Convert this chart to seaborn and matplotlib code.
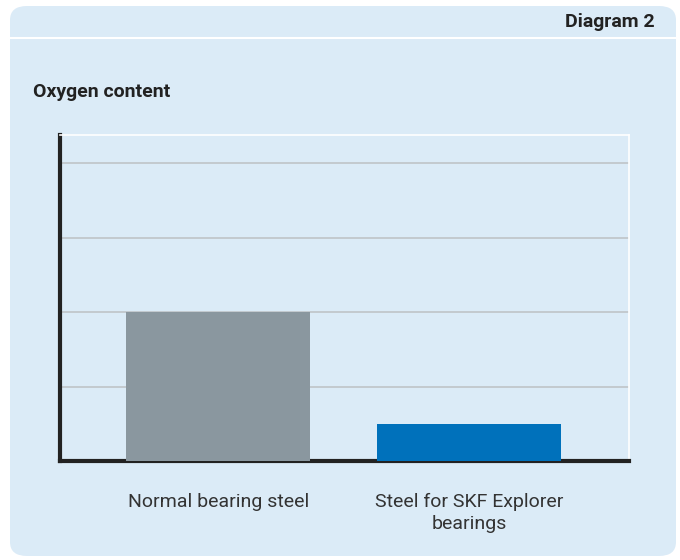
import matplotlib
matplotlib.use("Agg")
import matplotlib.pyplot as plt
import seaborn as sns
from matplotlib.patches import FancyBboxPatch
from matplotlib.lines import Line2D

# chart data
categories = ["Normal bearing steel", "Steel for SKF Explorer\nbearings"]
oxygen = [2.0, 0.5]
bar_colors = ["#8a979f", "#0071bb"]

panel_bg = "#dbebf7"

sns.set_theme(style="white")
plt.rcParams["font.family"] = ["Roboto", "DejaVu Sans"]

fig = plt.figure(figsize=(6.8, 5.6), dpi=100)
fig.patch.set_facecolor("white")

# rounded light blue panel behind everything
W, H = 680, 560
panel = FancyBboxPatch((10 / W, 1 - 556 / H), 666 / W, 550 / H,
                       boxstyle="round,pad=0,rounding_size=0.025",
                       transform=fig.transFigure, facecolor=panel_bg,
                       edgecolor="none", zorder=-5)
fig.patches.append(panel)
# white separator under the header strip
fig.add_artist(Line2D([10 / W, 676 / W], [1 - 38 / H, 1 - 38 / H],
                      transform=fig.transFigure, color="white", lw=1.5, zorder=-4))

fig.text(655 / W, 1 - 22 / H, "Diagram 2", ha="right", va="center",
         fontsize=14, fontweight="semibold", color="#222222")
fig.text(33 / W, 1 - 92 / H, "Oxygen content", ha="left", va="center",
         fontsize=14, fontweight="semibold", color="#222222")

ax = fig.add_axes([60 / W, 1 - 461 / H, 569 / W, 326 / H])
ax.set_zorder(2)
ax.set_facecolor(panel_bg)

sns.barplot(x=categories, y=oxygen, hue=categories, palette=bar_colors,
            width=0.733, saturation=1, legend=False, linewidth=0, ax=ax, zorder=3)

ax.set_xlim(-0.63, 1.637)
ax.set_ylim(0, 4.38)
ax.set_yticks([1, 2, 3, 4])
ax.yaxis.grid(True, color="#bfc4c8", lw=1.2)
ax.set_axisbelow(True)
ax.tick_params(axis="y", left=False, labelleft=False)
ax.tick_params(axis="x", bottom=False, labelsize=14, labelcolor="#333333", pad=17)
for lbl in ax.get_xticklabels():
    lbl.set_linespacing(1.3)

for side in ["left", "bottom"]:
    ax.spines[side].set_color("#222222")
    ax.spines[side].set_linewidth(3)
for side in ["top", "right"]:
    ax.spines[side].set_color("white")
    ax.spines[side].set_linewidth(1.2)

ax.set_xlabel("")
ax.set_ylabel("")

plt.savefig("out.png", dpi=100, facecolor=fig.get_facecolor())
